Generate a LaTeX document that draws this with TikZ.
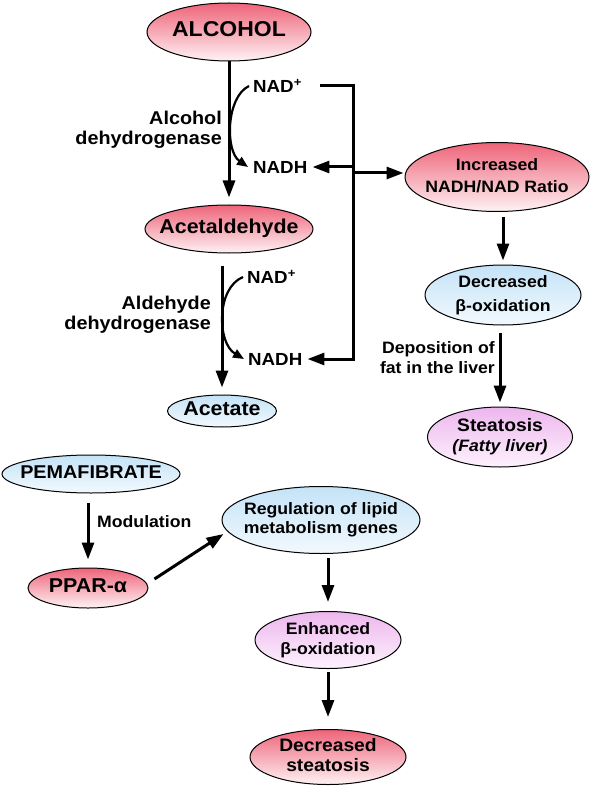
\documentclass[tikz,border=0pt]{standalone}
\usepackage{fontspec}
\setmainfont{Liberation Sans}[FakeStretch=1.07]
\usetikzlibrary{positioning, arrows.meta, shapes.geometric, calc}
\definecolor{redtop}{HTML}{EE6479}
\definecolor{redbot}{HTML}{FEF2F4}
\definecolor{bluetop}{HTML}{C4E3F7}
\definecolor{bluebot}{HTML}{F2F9FE}
\definecolor{violtop}{HTML}{EDB6EE}
\definecolor{violbot}{HTML}{FDF2FD}
\newsavebox\cellbox
\newcommand\celltext[1]{%
  \sbox\cellbox{\begin{tabular}{@{}c@{}}#1\end{tabular}}%
  \makebox[0pt]{\raisebox{\dimexpr(\dp\cellbox-\ht\cellbox)/2\relax}[0pt][0pt]{\usebox\cellbox}}}
\tikzset{
  pill/.style     = {ellipse, draw=black, line width=1pt, inner sep=0pt},
  redpill/.style  = {pill, top color=redtop, bottom color=redbot},
  bluepill/.style = {pill, top color=bluetop, bottom color=bluebot},
  violpill/.style = {pill, top color=violtop, bottom color=violbot},
  txtL/.style     = {font=\bfseries\fontsize{20}{22}\selectfont},
  txtM/.style     = {font=\bfseries\fontsize{18.5}{19.5}\selectfont},
  txtN/.style     = {font=\bfseries\fontsize{17.5}{20}\selectfont},
  txtS/.style     = {font=\bfseries\fontsize{16.5}{20}\selectfont},
  lbl/.style      = {inner sep=0pt, align=right},
  ar/.style       = {-{Triangle[length=17pt,width=12pt]}, line width=3pt,
                     shorten <=5pt, shorten >=7pt},
  bendar/.style   = {-{Triangle[length=11pt,width=9pt]}, line width=2.2pt},
}

\begin{document}
\begin{tikzpicture}[x=1pt, y=-1pt]
  \useasboundingbox (0,0) rectangle (597,786);

  % ethanol oxidation
  \node[redpill, minimum width=164pt, minimum height=58pt,
        font=\bfseries\fontsize{21.5}{24}\selectfont] (alcohol) at (229,32) {\celltext{ALCOHOL}};
  \node[redpill, txtL, minimum width=168pt, minimum height=48pt] (acetald) at (229,229) {\celltext{Acetaldehyde}};
  \node[bluepill, txtL, minimum width=109pt, minimum height=32pt] (acetate) at (222,411) {\celltext{Acetate}};

  \node[txtN, inner sep=0pt, anchor=west] (nadA) at (253,86) {NAD\textsuperscript{+}};
  \node[txtN, inner sep=0pt, anchor=west] (nadhA) at (253,167) {NADH};
  \node[txtN, inner sep=0pt, anchor=west] (nadB) at (247,277) {NAD\textsuperscript{+}};
  \node[txtN, inner sep=0pt, anchor=west] (nadhB) at (248,359) {NADH};

  \node[lbl, txtM, anchor=east] (enzA) at (222,130) {Alcohol\\dehydrogenase};
  \node[lbl, txtM, anchor=east] (enzB) at (211,315) {Aldehyde\\dehydrogenase};

  \draw[ar, shorten <=0pt] (alcohol) -- (acetald);
  \draw[ar, shorten <=12pt] (acetate |- acetald.south) -- (acetate);
  \draw[bendar] ([xshift=-4pt]nadA.west) .. controls +(-23,11) and +(-23,-16) .. ([xshift=-5pt]nadhA.west);
  \draw[bendar] ([xshift=-4pt]nadB.west) .. controls +(-27,11) and +(-27,-16) .. ([xshift=-4pt]nadhB.west);

  % redox ratio and fatty liver
  \node[redpill, font=\bfseries\fontsize{16.5}{22}\selectfont, minimum width=184pt, minimum height=69pt]
       (ratio) at (497,177) {\celltext{Increased\\NADH/NAD Ratio}};
  \node[bluepill, font=\bfseries\fontsize{16.5}{24}\selectfont, minimum width=156pt, minimum height=60pt]
       (betadown) at (503,295) {\celltext{Decreased\\β-oxidation}};
  \node[violpill, font=\bfseries\fontsize{18}{20}\selectfont, minimum width=145pt, minimum height=60pt]
       (steatosis) at (500,437) {\celltext{Steatosis\\{\fontsize{16.5}{20}\selectfont\itshape (Fatty liver)}}};
  \node[lbl, txtS, anchor=east] (depos) at (495,358) {Deposition of\\fat in the liver};

  \coordinate (bus) at (353,200);
  \draw[ar, shorten <=18pt, shorten >=5pt] (nadA.east) -| (bus) |- (nadhB.east);
  \draw[ar, shorten <=0pt, shorten >=5pt] (bus |- nadhA.east) -- (nadhA.east);
  \draw[ar, shorten <=0pt, shorten >=1pt] ([yshift=4pt]bus |- ratio.west) -- ([yshift=4pt]ratio.west);
  \draw[ar, shorten <=5pt, shorten >=4pt] (betadown |- ratio.south) -- (betadown);
  \draw[ar, shorten <=7pt, shorten >=4pt] (steatosis |- betadown.south) -- (steatosis);

  % pemafibrate branch
  \node[bluepill, font=\bfseries\fontsize{18.5}{20}\selectfont, minimum width=178pt, minimum height=38pt]
       (pema) at (91,474) {\celltext{PEMAFIBRATE}};
  \node[redpill, txtL, minimum width=120pt, minimum height=40pt] (ppar) at (88,588) {\celltext{PPAR-α}};
  \node[txtS, inner sep=0pt, anchor=west] (modul) at (97,522) {Modulation};
  \node[bluepill, font=\bfseries\fontsize{16.5}{19}\selectfont, minimum width=198pt, minimum height=67pt]
       (regul) at (321,520) {\celltext{Regulation of lipid\\metabolism genes}};
  \node[violpill, txtS, minimum width=146pt, minimum height=57pt]
       (betaup) at (328,640) {\celltext{Enhanced\\β-oxidation}};
  \node[redpill, font=\bfseries\fontsize{18}{20}\selectfont, minimum width=156pt, minimum height=55pt]
       (less) at (328,757) {\celltext{Decreased\\steatosis}};

  \draw[ar, shorten <=9pt, shorten >=8pt] (ppar |- pema.south) -- (ppar);
  \draw[ar, shorten <=0pt, shorten >=0pt] ([shift={(6,-9)}]ppar.east) -- ([shift={(2,14)}]regul.west);
  \draw[ar, shorten <=4pt, shorten >=9pt] (betaup |- regul.south) -- (betaup);
  \draw[ar, shorten <=3pt, shorten >=12pt] (betaup) -- (less);

\end{tikzpicture}
\end{document}
